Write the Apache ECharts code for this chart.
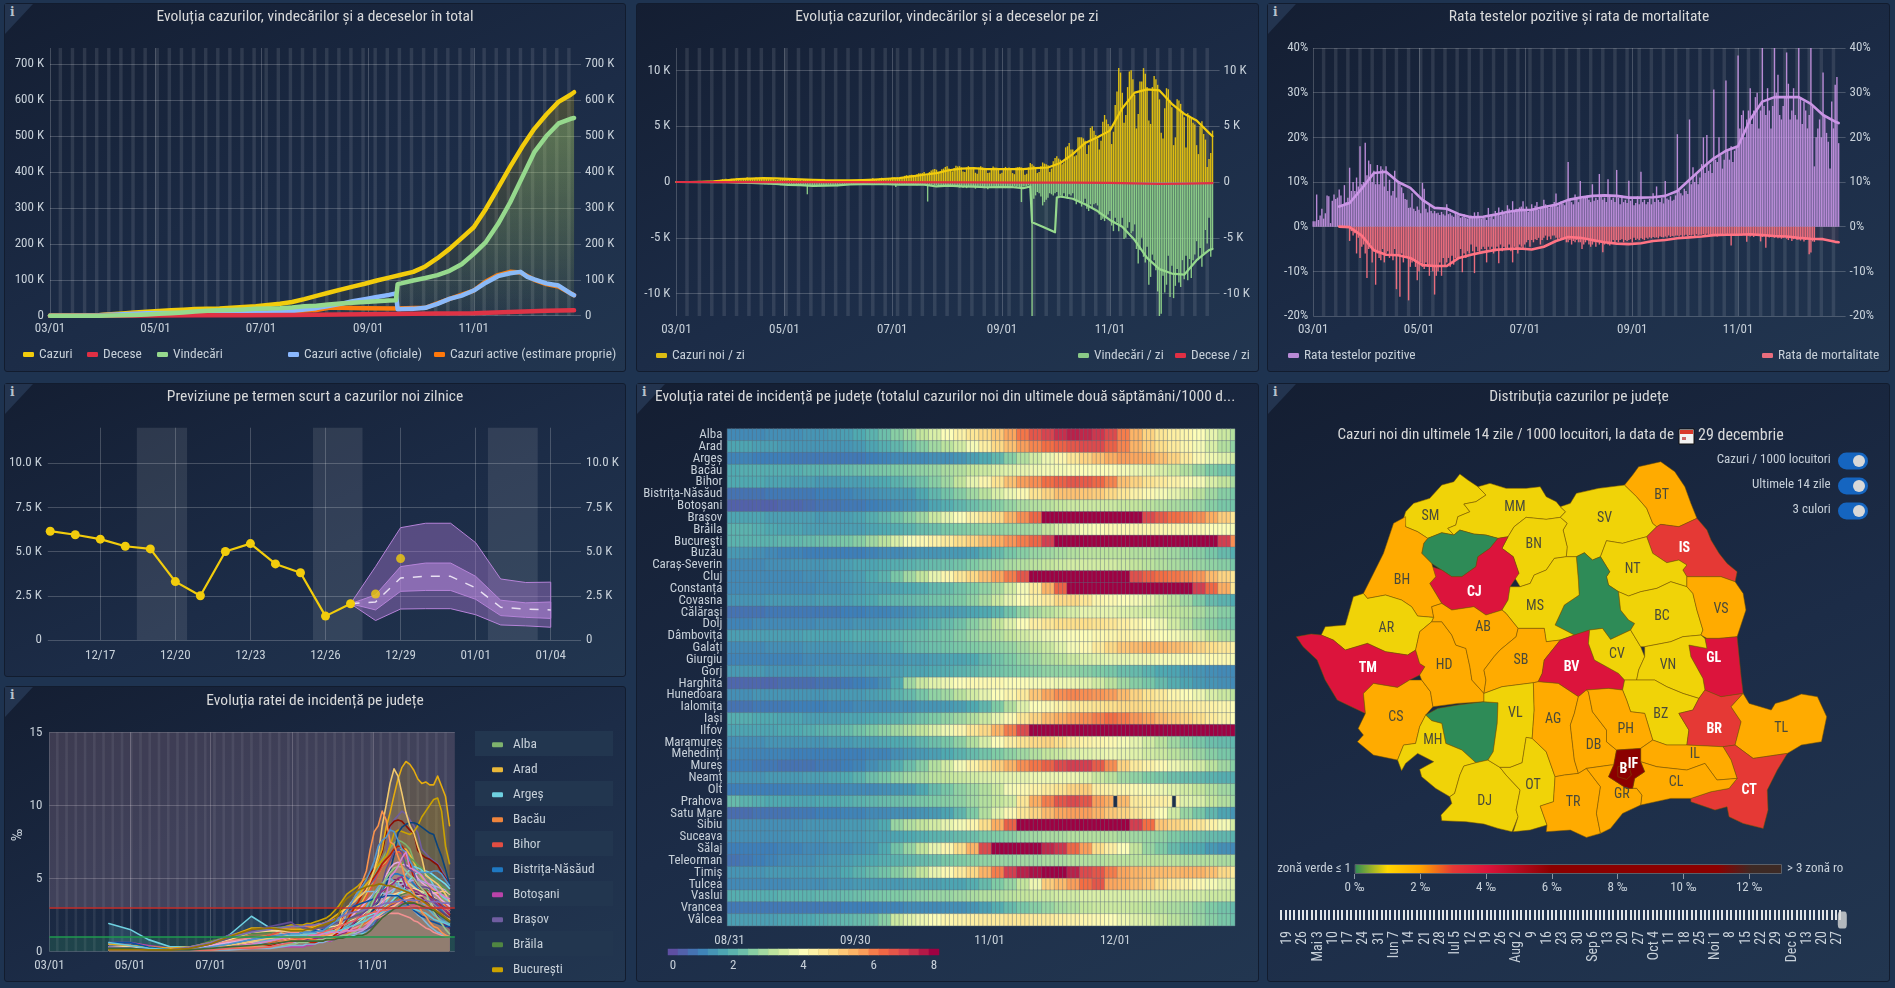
<!DOCTYPE html>
<html><head><meta charset="utf-8">
<script src="https://cdn.jsdelivr.net/npm/echarts@6/dist/echarts.min.js"></script>
<style>
html,body{margin:0;padding:0;width:1895px;height:988px;overflow:hidden;background:#1e3350}
.panel{position:absolute;border:1px solid #121c2e;border-radius:3px;box-sizing:border-box;background:linear-gradient(155deg,#141e32 0%,#1c2c47 55%,#223650 100%)}
.corner{position:absolute;left:0;top:0;width:28px;height:30px;background:#23344f;clip-path:polygon(0 0,100% 0,0 100%)}
.corner span{position:absolute;left:5px;top:1px;color:#b9c2cc;font:bold 12px "DejaVu Serif",serif}
.zebra{position:absolute;background:#22364f}
#c{position:absolute;left:0;top:0;width:1895px;height:988px}
</style></head><body>
<div id="bg"></div><div id="c"></div>
<script>
const FONT='"Liberation Sans Narrow","Roboto Condensed",Roboto,sans-serif';
const TXT='#c7d0d9', GRIDC='rgba(255,255,255,.2)';

/* ---------- dates ---------- */
const axisDays=308;
const tickDates=['03/01','05/01','07/01','09/01','11/01'];

/* ---------- totals (thousands), [day since 03/01, value] ---------- */
const totalCases=[[0,0],[7,.02],[14,.1],[21,.4],[28,1.5],[35,3.9],[42,6.3],[49,8.7],[56,11],[63,13.2],[70,15.1],[77,16.9],[84,18.5],[91,19.5],[98,20.3],[105,22.2],[112,24.5],[119,26.5],[126,29.6],[133,33],[140,38],[147,46],[154,55],[161,64],[168,72.5],[175,81],[182,89],[189,98],[196,106],[203,114],[210,122],[217,137],[224,160],[231,186],[238,216],[245,246],[252,297],[259,355],[266,414],[273,470],[280,520],[287,560],[294,595],[301,615],[303,622]];
const totalRecovered=[[0,0],[14,0],[28,.2],[35,.5],[42,1],[49,2],[56,3.5],[63,5.5],[70,7],[77,9],[84,11.5],[91,14],[98,15],[105,16],[112,17.5],[119,19],[126,20],[133,21],[140,23],[147,26],[154,28],[161,31],[168,34],[175,36],[182,38],[189,40],[196,42],[200,43],[201,88],[203,90],[210,98],[217,105],[224,113],[231,125],[238,143],[245,172],[252,205],[259,255],[266,315],[273,385],[280,455],[287,500],[294,535],[301,548],[303,550]];
const totalDeaths=[[0,0],[28,0],[56,.6],[84,1.2],[112,1.5],[140,1.9],[168,3.2],[196,4.4],[224,5.8],[245,7],[266,10.5],[287,13.5],[303,15.3]];
const activeOfficial=[[0,0],[14,.1],[28,1.3],[42,4],[56,7],[70,7.5],[84,6.5],[98,5],[112,6.5],[126,9],[140,13],[147,17],[154,21],[161,27],[168,33],[175,40],[182,46],[189,52],[196,58],[200,62],[201,18],[210,19],[217,22],[224,33],[231,47],[238,56],[245,70],[252,92],[259,110],[266,118],[272,122],[276,108],[280,101],[287,90],[294,84],[301,62],[303,57]];
const activeEstimate=[[0,0],[28,1.3],[56,7],[84,7],[112,8],[140,13],[154,16],[161,22],[168,22],[182,21],[200,20],[201,18],[217,22],[231,47],[245,70],[252,95],[259,113],[266,122],[272,120],[280,100],[287,88],[294,81],[303,57]];

/* ---------- daily (thousands) ---------- */
const dailyCases=[0,0,0,0,0,0,.01, 0,0,0,.01,.01,.02,.03, .02,.03,.03,.04,.05,.06,.05, .07,.1,.14,.19,.2,.26,.25, .3,.18,.2,.3,.3,.26,.34, .28,.19,.19,.34,.35,.43,.38, .31,.26,.31,.41,.33,.37,.33, .36,.31,.32,.37,.39,.32,.29, .2,.19,.22,.33,.27,.33,.32, .24,.19,.23,.21,.28,.25,.23, .24,.14,.19,.2,.23,.23,.25, .24,.15,.13,.18,.15,.18,.2, .19,.15,.13,.16,.15,.13,.16, .15,.13,.13,.12,.16,.15,.18, .17,.16,.15,.19,.17,.21,.24, .23,.16,.21,.25,.27,.22,.33, .25,.21,.26,.33,.38,.31,.32, .33,.28,.29,.42,.43,.37,.41, .36,.31,.38,.55,.61,.56,.62, .66,.53,.6,.7,.78,.77,.8, .89,.61,.67,.9,1.03,1.11,1.17, 1.1,.85,.89,1.15,1.2,1.35,1.4, 1.2,1,.95,1.25,1.45,1.38,1.42, 1.3,.95,.9,1.3,1.42,1.35,1.33, 1.2,.83,.75,1.3,1.4,1.3,1.25, 1.1,.8,.85,1.25,1.38,1.3,1.28, 1.2,.75,.82,1.2,1.35,1.25,1.3, 1.2,.8,.7,1.3,1.35,1.35,1.3, 1.2,.65,.75,1.3,1.7,1.6,1.45, 1.3,.8,.9,1.4,1.75,1.65,1.6, 1.5,.9,1.2,1.85,2.15,2.3,2.1, 2,1.6,1.75,3.1,3.2,3.5,2.9, 2.9,2.3,2.4,4,4,4,3.9, 3.7,2.5,3.3,4.85,5,4.6,4.2, 3.9,2.9,3.7,5.4,6,5.6,5.2, 5,3.4,4.5,6.9,8.1,10.2,9.8, 8,5.3,6,8.5,9.9,10,9.2, 7.8,4.8,6.1,9,9,10.2,9.7, 8.5,5.5,5.2,8.5,9.5,9.2,8.7, 7.4,4.4,3.9,6.6,8.4,8.3,7.3, 6.7,3.3,4,7.4,7.3,7,6.3, 5.8,3.1,6.15,5.95,5.7,5.3,5.15, 3.3,2.5,5,5.45,4.3,3.8,1.35, 2.05,2.6,4.6];
const dailyRecovered=[0,0,0,0,0,0,0, 0,0,0,0,0,0,0, 0,0,0,0,0,0,0, 0,0,.01,.02,.02,.01,.02, .03,.03,.04,.04,.05,.04,.06, .06,.04,.07,.05,.09,.11,.08, .09,.1,.12,.13,.14,.12,.1, .16,.2,.17,.21,.18,.19,.22, .18,.19,.25,.3,.28,.22,.21, .24,.28,.33,.26,.3,.32,.25, .31,.33,.35,.28,1.1,.3,.32, .35,.4,.42,.3,.38,.33,.28, .31,.33,.25,.28,.36,.3,.35, .38,.2,.3,.22,.19,.17,.2, .15,.2,.22,.18,.2,.15,.17, .19,.22,.15,.2,.24,.18,.2, .21,.16,.18,.25,.2,.19,.2, .2,.22,.25,.18,.21,.45,.2, .18,.22,.19,.2,.26,.22,.2, .25,.2,.22,.3,.24,.21,.25, .27,.3,1.75,.3,.33,.25,.28, .3,.36,.42,.33,.3,.28,.35, .42,.38,.3,.37,.41,.45,.5, .4,.52,.38,.55,.42,.36,.4, .45,.6,.43,.5,.48,.4,.55, .42,.65,.48,.5,.45,.52,.4, .48,.5,.43,.4,.55,.48,.38, .42,.46,.35,.5,.4,.45,1.8, .4,.38,.35,.3,.35,46,1.5, 1.2,.9,1,1.3,2.1,1.8,1.6, 1.4,1,1.1,1.2,1,.9,1.3, 1.2,1.4,1,1.3,1.5,1.1,1.2, 1,1.6,2,1.7,1.9,2.2,1.8, 1.5,2.4,2.6,2,2.3,2,1.9, 2.1,2.9,3.4,3.3,3.5,3.1,2.9, 2.6,3.9,4.4,3.2,3.6,4.4,3.9, 3.2,5.1,5,4.1,3.6,4.6,4.4, 3.8,6,7.3,6.1,5,6.7,7.2, 5.8,9.2,8.5,6.5,7,7.9,9.8, 12.5,11.8,8.4,9.9,9.2,6.6,10.3, 7.5,10.4,9.3,7.8,9,9.4,7, 8.7,6.6,8.8,6.9,8.6,7,6.5, 5.3,7,5.9,7.6,6.4,4.3,5.5, 3.2,6.7,6];
const avgCases=[0,0,.02,.05,.15,.27,.3,.34,.33,.28,.23,.2,.16,.15,.14,.17,.22,.29,.35,.5,.65,.8,1.05,1.2,1.25,1.15,1.15,1.15,1.15,1.25,1.3,1.7,2.5,3.5,4,4.6,6.6,8,8.3,8.2,7,6.1,5.5,4.4];
const avgRecovered=[[0,0],[21,.01],[28,.02],[35,.05],[42,.08],[49,.12],[56,.18],[63,.25],[70,.28],[77,.35],[84,.33],[91,.3],[98,.22],[105,.19],[112,.2],[119,.2],[126,.23],[133,.22],[140,.24],[147,.4],[154,.33],[161,.4],[168,.42],[175,.47],[182,.46],[189,.45],[196,.55],[200,.4],[201,3.6],[207,4],[214,4.5],[215,1.4],[217,1.3],[224,1.5],[231,2],[238,2.6],[245,3.4],[252,4],[259,5.2],[266,6.8],[273,7.8],[280,8.2],[287,8.3],[294,7],[301,6.1],[303,6]];
const avgDeaths=[[0,0],[28,.01],[56,.02],[112,.02],[168,.04],[196,.05],[224,.06],[245,.08],[259,.13],[273,.16],[287,.14],[303,.1]];

/* ---------- rates (%) ---------- */
const dailyPositive=[1.2,1.2,7.2,1.5,2.5,4,1.8, 3,7,6.8,.8,5.8,7.2,6.2, 6.5,8.3,7,5,9.3,5.5,6.5, 13.2,8,10,8,11,9,18, 9.5,10,18.8,11.5,14.8,14,10, 12.5,9.5,13.8,9.5,13.5,12.8,9, 13.5,8,10.5,7,8,12.5,6.5, 9.8,9.5,8.8,7.5,6.2,6,4.2, 4.3,7.5,4,3.5,4.5,3.8,3, 9.8,8.5,4,3.2,4.8,3.5,3, 3.5,3,3.1,2.6,3.3,2.8,2.5, 5,2.8,3,2.5,2.2,3.3,2.6, 2.5,2,2.2,2.8,2,1.8,2.1, 2.5,2,3.2,2,3.3,1.9,1.8, 2.4,2,1.5,4.2,2.1,2.6,1.7, 3.5,2.5,4.3,2.5,3.7,3,2.8, 4.8,4,3,5.7,3.5,4,3.5, 4.3,4.5,5.7,3.8,4.5,3.3,3.5, 5,3.8,4.7,5.5,3.8,4.3,4.5, 6,5,4.6,4.2,4.8,5,5.5, 7.4,4.5,5,5.7,5.2,4.8,5.8, 14.5,6,5.5,5,7.2,6.5,5.5, 10.2,6.2,6.8,6.5,7,6,5.5, 9.5,5.8,6.5,6,11.8,7,6, 6.5,5.5,10.6,7,6,6.5,5.5, 12.7,6.5,5,7,5.5,6,5.3, 10.3,5.8,6.5,4.8,5.3,6.8,5, 12.3,5.5,6,5,5.5,6.2,5, 7.5,5.5,9,6,5.5,6.5,5.2, 10.2,6.3,6,6.8,5.8,6,7, 20.7,8,7.5,7,8.5,8,7.3, 24,9.5,13.3,10,12,9.5,11, 14,20,12,20.5,12.5,14,12, 30.7,15,14.5,20,16,13,15, 32.7,17,15,18,14.5,17,18, 38.3,22,25,26,20,24,26, 31,23,26,29,30,22,26, 42,27,25,31,26,22,27, 42,30,34,25,24,27,29, 39,32,24,26,31,25,24, 42,29,23,28,26,22,25, 42,27,13.5,20,22,24,20, 34.5,25,21,19,13,28,22, 31.8,33.5,18.7];
const dailyMortality=[0,0,0,0,0,0,0, 0,0,0,0,0,0,0, 0,0,0,0,0,0,.1, 3.2,1,2,1.5,6,2.5,7, 4.5,4,6,11.5,5,4,8, 5.5,13,6,7,7.5,5,8, 6,5.5,7,6.5,7.5,5,14, 6.5,15.7,6,8,6.5,7,16.5, 9,8,7.5,9,12,10,8, 9,9.5,8,9,11,9,10, 15.2,11,10,8,11,7,9, 8,7,9,6.5,8.5,7,7, 7,5,10.2,6,7,5.5,6, 4,5.5,10.4,4.5,5.5,6,5, 4.5,5,8,4.5,5,4.5,6, 5.5,4.5,8.2,4,5.5,4.5,5, 5,4,5.5,8,4.5,5,6, 4,4.5,5,4,3.5,3,4.5, 3,3.5,2.8,3,2.5,4,3, 2.5,2,3,2.2,2.8,2,2, 2.5,3,2.5,3,3,2.5,3.5, 3.5,3,4,3.2,3.5,3,3.5, 3.5,5,4,3.5,3,4,4.5, 4,3.5,4.5,3.5,4,3.5,5.7, 4,3.5,4,4.2,3.5,3,3.5, 3,3.5,3,2.8,3.5,3,3.2, 3,2.8,3.5,2.5,3,2.7,3, 2.6,2.8,3,2.5,2.7,2.4,2.6, 2.3,2.5,2.4,2.6,2.2,2.3,2.4, 2.2,2.4,2,2.3,2.1,2.2,2, 2,2.2,1.9,2.3,2,1.8,2.1, 1.9,2,1.8,2.1,1.7,1.9,1.8, 1.8,1.7,1.9,1.6,1.8,2,1.7, 1.8,1.9,2.2,1.8,1.7,1.9,1.6, 1.7,1.8,1.6,4.2,1.9,1.7,1.8, 2,1.8,2,1.7,1.9,3.4,2, 2.2,2,2.3,1.9,2.1,2,3.3, 2.3,2.1,4.7,2,2.4,2.2,2.1, 2.5,2.3,2.6,2.4,2.7,2.5,2.3, 2.7,3,2.5,3.2,2.8,2.6,3, 2.9,3.1,2.7,3.3,3,2.8,6.2, 5.8,3.3,3.4].slice(0,304);
const avgPositive=[[15,4.5],[21,5.3],[28,8.5],[35,12],[42,12.3],[49,10],[56,8.7],[63,6],[70,4.2],[77,4],[84,2.8],[91,2.1],[98,2.2],[105,2.7],[112,3.3],[119,3.7],[126,3.8],[133,4.4],[140,4.9],[147,6],[154,6.5],[161,6.9],[168,7],[175,6.9],[182,6.5],[189,6.5],[196,6.6],[203,6.9],[210,8],[217,10.5],[224,13],[231,15.3],[238,17],[245,18],[252,24],[259,28],[266,29],[273,29],[280,29],[287,27.5],[294,25],[301,23.5],[303,23.2]];
const avgMortality=[[15,0],[21,.1],[28,2],[35,5.3],[42,6.3],[49,6.4],[56,7],[63,8.6],[70,8.8],[77,8.8],[84,7],[91,6.3],[98,5.7],[105,5.2],[112,5],[119,4.9],[126,5.1],[133,4.5],[140,3.2],[147,2.3],[154,2.5],[161,3],[168,3.5],[175,3.8],[182,3.9],[189,3.7],[196,3.2],[203,3],[210,2.6],[217,2.4],[224,2.2],[231,1.9],[238,1.8],[245,1.8],[252,1.7],[259,1.9],[266,2.1],[273,2.2],[280,2.5],[287,2.7],[294,2.8],[301,3.4],[303,3.5]];

/* ---------- forecast (thousands) ---------- */
const forecastLabels={3:'12/17',6:'12/20',9:'12/23',12:'12/26',15:'12/29',18:'01/01',21:'01/04'};
const forecastActual=[[1,6.15],[2,5.95],[3,5.7],[4,5.3],[5,5.15],[6,3.3],[7,2.5],[8,5],[9,5.45],[10,4.3],[11,3.8],[12,1.35],[13,2.05]];
const forecastLate=[[14,2.6],[15,4.6]];
const forecastDays=[13,14,15,16,17,18,19,20,21];
const outerHigh=[2.05,4.15,6.35,6.6,6.6,5.5,3.45,3.25,3.27];
const innerHigh=[2.05,2.55,4.15,4.35,4.35,3.6,2.25,2.1,2.15];
const forecastMean=[2.05,2.15,3.5,3.6,3.6,2.95,1.85,1.75,1.7];
const innerLow=[2.05,1.7,2.75,2.8,2.8,2.3,1.38,1.28,1.22];
const outerLow=[2.05,1.1,1.75,1.77,1.77,1.43,.85,.8,.72];
const forecastWeekends=[[4.46,6.47],[11.5,13.48],[18.49,20.48]];

/* ---------- counties ---------- */
const counties=['Alba','Arad','Argeș','Bacău','Bihor','Bistrița-Năsăud','Botoșani','Brașov','Brăila','București','Buzău','Caraș-Severin','Cluj','Constanța','Covasna','Călărași','Dolj','Dâmbovița','Galați','Giurgiu','Gorj','Harghita','Hunedoara','Ialomița','Iași','Ilfov','Maramureș','Mehedinți','Mureș','Neamț','Olt','Prahova','Satu Mare','Sibiu','Suceava','Sălaj','Teleorman','Timiș','Tulcea','Vaslui','Vrancea','Vâlcea'];
const countyColors=['#7EB26D','#EAB839','#6ED0E0','#EF843C','#E24D42','#1F78C1','#BA43A9','#705DA0','#508642','#CCA300','#447EBC','#C15C17','#890F02','#0A437C','#6D1F62','#584477','#B7DBAB','#F4D598','#70DBED','#F9BA8F','#F29191','#82B5D8','#E5A8E2','#AEA2E0','#629E51','#E5AC0E','#64B0C8','#E0752D','#BF1B00','#0A50A1','#962D82','#614D93','#9AC48A','#F2C96D','#65C5DB','#F9934E','#EA6460','#5195CE','#D683CE','#806EB7','#3F6833','#967302'];
/* incidence (cases/1000) every third day from 08/31 to 12/29 */
const incidence=[
[1.0,1.0,1.0,1.1,1.1,1.1,1.2,1.2,1.3,1.4,1.6,1.8,2.1,2.5,2.8,3.2,3.5,4.0,4.3,4.6,4.9,5.2,5.7,6.3,6.8,7.1,7.4,7.6,7.5,7.3,7.0,6.2,5.5,5.0,4.6,4.4,4.2,4.0,3.7,3.3,3.0],
[1.5,1.5,1.4,1.4,1.3,1.2,1.2,1.2,1.2,1.2,1.3,1.5,1.7,1.9,2.2,2.5,2.8,3.1,3.4,3.9,4.4,4.9,5.3,5.8,6.1,6.4,6.6,6.8,7.0,7.0,6.6,6.1,5.5,5.1,4.8,4.5,4.2,3.9,3.5,3.0,2.6],
[.9,.9,.8,.8,.8,.7,.7,.7,.7,.7,.7,.8,.9,1.0,1.0,1.0,1.1,1.1,1.2,1.4,1.6,1.9,2.5,3.0,3.4,3.8,4.2,4.6,5.0,5.3,5.6,5.8,5.7,5.6,5.3,5.0,4.5,4.1,3.8,3.6,3.4],
[1.6,1.7,1.7,1.7,1.7,1.7,1.8,1.8,1.9,2.0,2.1,2.2,2.3,2.4,2.5,2.6,2.7,2.9,3.0,3.2,3.3,3.5,3.6,3.7,3.8,3.9,3.9,4.0,4.0,4.0,4.0,3.9,3.8,3.7,3.5,3.3,3.0,2.7,2.4,2.2,2.0],
[1.6,1.6,1.6,1.5,1.5,1.4,1.4,1.3,1.3,1.4,1.4,1.5,1.6,1.8,2.0,2.2,2.5,2.8,3.2,3.7,4.2,4.7,5.3,5.8,6.0,6.4,6.6,6.8,6.7,6.5,6.1,5.3,5.0,4.7,4.5,4.3,4.1,3.9,3.5,3.2,2.9],
[.6,.6,.6,.7,.7,.7,.7,.8,.8,.9,1.0,1.1,1.2,1.3,1.3,1.6,1.9,2.2,2.5,2.8,3.1,3.5,3.8,4.1,4.7,5.0,5.3,5.3,5.2,5.1,4.9,4.6,4.3,4.1,3.9,3.7,3.4,3.1,2.8,2.5,2.3],
[.3,.3,.3,.3,.4,.4,.5,.6,.6,.7,.7,.8,.9,1.0,1.1,1.2,1.5,1.7,1.9,2.1,2.3,2.5,2.7,2.9,3.0,3.1,3.2,3.3,3.3,3.3,3.3,3.2,3.2,3.1,3.0,2.9,2.8,2.7,2.5,2.3,2.2],
[1.5,1.5,1.5,1.4,1.4,1.4,1.4,1.3,1.4,1.4,1.5,1.7,1.9,2.2,2.5,2.8,3.3,3.7,4.0,4.3,4.6,4.9,5.5,6.0,6.5,8.5,9,9.3,9.6,9.4,9,8.6,8.1,7.0,6.7,6.4,6.2,6.0,5.6,5.1,4.6],
[1.8,1.8,1.7,1.6,1.5,1.5,1.4,1.4,1.4,1.4,1.4,1.5,1.6,1.7,1.8,2.0,2.1,2.3,2.4,2.5,2.6,2.6,2.7,2.8,2.9,3.2,3.5,3.7,3.9,4.0,4.1,4.1,4.2,4.2,4.2,4.2,4.1,4.1,4.0,4.0,3.9],
[1.8,1.8,1.8,1.8,1.9,1.9,2.0,2.1,2.2,2.3,2.5,2.8,3.1,3.5,3.9,4.1,4.3,4.5,4.8,5.0,5.3,5.6,5.9,6.2,6.5,7.2,8.1,8.3,8.2,8.1,8.0,8.2,8.6,9.2,9.6,10,10.4,10.5,9.6,7.2,6.0],
[1.3,1.2,1.1,1.0,.9,.9,.8,.8,.8,.8,.8,.9,1.0,1.0,1.1,1.2,1.2,1.3,1.3,1.4,1.7,2.0,2.3,2.5,2.7,2.8,2.9,3.0,3.1,3.1,3.1,3.1,3.0,3.0,2.9,2.8,2.6,2.5,2.3,2.0,1.7],
[1.0,1.0,1.0,1.1,1.1,1.2,1.2,1.2,1.3,1.4,1.5,1.5,1.6,1.7,1.8,1.9,2.0,2.1,2.2,2.4,2.6,2.7,2.9,3.0,3.1,3.2,3.3,3.4,3.4,3.4,3.4,3.3,3.2,3.1,3.0,2.9,2.8,2.7,2.6,2.5,2.3],
[1.0,1.0,1.0,1.0,1.0,1.0,1.1,1.1,1.2,1.3,1.4,1.6,1.8,2.3,2.8,3.2,3.7,4.2,4.6,4.9,5.3,5.7,6.2,6.8,8.1,8.6,8.9,9,8.9,8.6,8.3,8.1,6.9,6.6,6.4,6.3,6.1,5.9,5.4,5.0,4.6],
[1.0,1.0,1.0,1.0,1.0,1.0,1.0,1.1,1.1,1.2,1.3,1.4,1.4,1.5,1.6,1.7,1.9,2.0,2.2,2.4,2.6,2.9,3.4,3.9,4.5,5.5,6.6,8.1,8.5,8.7,8.8,8.8,8.7,8.5,8.3,8.1,8.0,7.2,6.5,5.6,4.6],
[1.2,1.2,1.2,1.3,1.3,1.3,1.3,1.4,1.4,1.4,1.5,1.6,1.8,1.9,2.0,2.1,2.2,2.3,2.4,2.6,2.9,3.3,3.7,4.0,4.3,4.5,4.9,4.9,4.6,4.2,4.1,4.0,3.9,3.7,3.4,3.1,2.8,2.4,2.0,1.8,1.6],
[.6,.6,.6,.7,.7,.7,.7,.7,.7,.8,.8,.9,.9,1.0,1.1,1.2,1.3,1.3,1.4,1.5,1.6,1.8,2.2,2.6,2.9,3.1,3.3,3.5,3.7,3.7,3.7,3.6,3.5,3.4,3.3,3.2,3.1,2.9,2.7,2.5,2.3],
[.9,.9,1.0,1.0,1.0,1.0,1.0,1.1,1.1,1.1,1.2,1.2,1.3,1.4,1.5,1.6,1.8,2.0,2.2,2.5,2.8,3.2,3.6,4.0,4.4,4.6,4.8,4.8,4.8,4.7,4.6,4.4,4.2,4.0,3.8,3.4,3.0,2.7,2.5,2.3,2.2],
[1.4,1.4,1.4,1.4,1.4,1.4,1.5,1.5,1.5,1.6,1.7,1.7,1.8,1.9,2.0,2.1,2.2,2.3,2.5,2.7,2.9,3.0,3.2,3.4,3.6,3.8,3.9,4.0,4.0,4.1,4.2,4.3,4.2,4.1,4.0,3.9,3.7,3.5,3.2,3.0,2.8],
[1.0,1.0,1.0,1.1,1.1,1.1,1.2,1.2,1.2,1.3,1.4,1.4,1.5,1.7,1.9,2.0,2.1,2.2,2.3,2.4,2.5,2.6,2.7,2.9,3.1,3.3,3.6,3.9,4.1,4.5,4.9,5.2,5.4,5.5,5.5,5.4,5.2,5.0,4.8,4.6,4.3],
[.9,.9,.9,.9,.9,.9,1.0,1.0,1.0,1.1,1.1,1.1,1.2,1.2,1.3,1.3,1.4,1.5,1.5,1.6,1.9,2.2,2.4,2.6,2.8,3.0,3.1,3.3,3.5,3.6,3.7,3.7,3.8,3.8,3.9,3.9,4.0,4.0,4.1,4.1,3.9],
[1.3,1.3,1.3,1.2,1.2,1.2,1.2,1.3,1.3,1.3,1.3,1.4,1.4,1.4,1.5,1.5,1.6,1.7,1.8,1.9,2.1,2.2,2.3,2.4,2.5,2.6,2.6,2.6,2.5,2.4,2.3,2.1,2.0,1.8,1.6,1.5,1.3,1.2,1.1,1.0,1.0],
[.4,.4,.4,.4,.5,.5,.5,.6,.6,.7,.8,.9,1.1,1.6,2.8,3.3,3.6,3.8,4.0,4.1,4.1,4.1,4.0,4.0,3.9,3.9,3.8,3.8,3.6,3.4,3.1,2.8,2.5,2.3,2.0,1.7,1.5,1.3,1.2,1.1,1.0],
[1.1,1.1,1.2,1.2,1.2,1.2,1.2,1.2,1.3,1.3,1.3,1.4,1.5,1.8,2.0,2.3,2.6,2.8,3.1,3.4,3.7,4.0,4.2,4.5,5.2,5.7,6.0,6.1,6.0,5.9,5.8,5.4,5.0,4.7,4.5,4.2,4.0,3.8,3.5,3.3,3.1],
[.6,.6,.7,.7,.7,.8,.8,.8,.9,.9,1.0,1.0,1.0,1.1,1.1,1.2,1.2,1.3,1.4,1.6,1.9,2.4,3.0,3.6,4.0,4.1,4.3,4.5,4.6,4.7,4.8,4.9,4.9,4.8,4.7,4.6,4.5,4.4,4.3,4.2,4.0],
[1.7,1.7,1.6,1.6,1.5,1.5,1.4,1.4,1.4,1.5,1.5,1.6,1.7,1.8,2.0,2.2,2.4,2.6,2.8,3.0,3.3,3.7,4.1,4.6,5.0,5.4,5.6,5.8,6.0,6.2,6.4,6.2,5.9,5.7,5.4,5.2,5.0,4.8,4.5,4.3,4.0],
[1.5,1.5,1.5,1.5,1.6,1.6,1.7,1.8,1.9,2.0,2.2,2.4,2.6,2.8,3.0,3.2,3.5,3.8,4.2,4.6,4.9,5.5,6.2,7.0,8.5,9.5,10.7,11.8,12.6,13,12.8,12.4,11.8,11.5,11.6,11.4,11.4,12,11.3,10.6,8.6],
[1.1,1.1,1.1,1.2,1.2,1.2,1.2,1.2,1.3,1.3,1.4,1.4,1.5,1.6,1.7,1.9,2.1,2.3,2.6,3.0,3.5,4.0,4.4,4.7,4.9,5.0,4.8,4.5,4.3,4.2,4.1,3.9,3.7,3.4,3.1,2.8,2.5,2.3,2.1,2.0,1.9],
[1.0,.9,.9,.9,.9,.8,.8,.8,.8,.8,.8,.9,.9,1.1,1.2,1.3,1.4,1.6,1.8,2.0,2.2,2.4,2.6,2.8,3.0,3.2,3.3,3.5,3.6,3.7,3.8,3.7,3.6,3.4,3.3,3.1,2.9,2.7,2.5,2.3,2.1],
[.8,.8,.7,.7,.6,.6,.6,.7,.7,.8,.9,1.1,1.3,1.7,2.1,2.5,3.0,3.4,3.9,4.3,4.7,5.1,5.5,6.0,6.3,6.6,7.0,7.2,7.2,6.7,6.0,5.0,4.5,4.3,4.1,3.8,3.6,3.4,3.1,2.8,2.5],
[1.2,1.2,1.2,1.3,1.3,1.3,1.4,1.4,1.5,1.6,1.8,2.1,2.3,2.6,2.8,2.9,3.1,3.2,3.3,3.4,3.5,3.6,3.7,3.7,3.8,3.8,3.8,3.8,3.6,3.3,3.1,2.8,2.6,2.4,2.3,2.1,2.0,1.9,1.8,1.7,1.7],
[.8,.8,.8,.8,.8,.9,.9,.9,.9,1.0,1.0,1.0,1.1,1.2,1.3,1.6,2.0,2.3,2.6,2.8,3.0,3.3,3.9,4.1,4.3,4.5,4.7,5.0,5.1,4.4,4.3,4.2,4.1,3.9,3.8,3.6,3.4,3.2,3.0,2.8,2.6],
[2.0,1.8,1.7,1.6,1.6,1.5,1.5,1.6,1.6,1.7,1.8,1.9,2.0,2.1,2.2,2.3,2.4,2.5,2.6,2.8,3.0,3.2,3.4,4.6,5.6,6.2,6.8,7.0,6.8,5.8,5.6,5.4,4.5,4.4,4.4,4.3,3.6,3.5,3.2,3.0,2.8],
[.5,.5,.6,.6,.6,.7,.7,.8,.8,.9,.9,1.0,1.0,1.1,1.1,1.2,1.3,1.5,1.9,2.4,3.0,3.6,4.1,4.6,5.0,5.4,5.7,5.8,5.8,5.5,5.2,5.0,4.6,4.3,4.0,3.4,2.7,2.3,1.9,1.5,1.2],
[1.1,1.1,1.1,1.1,1.1,1.1,1.2,1.2,1.2,1.3,1.3,1.4,1.6,2.7,3.0,3.2,3.4,3.7,3.9,4.2,4.8,5.6,6.6,8.6,10,11.5,12.5,12,10.8,9.5,8.6,8.1,7.2,6.4,5.2,5.0,4.8,4.6,4.3,3.9,3.4],
[1.1,1.1,1.1,1.1,1.1,1.2,1.2,1.2,1.3,1.3,1.3,1.4,1.4,1.5,1.6,1.7,1.8,1.9,2.0,2.1,2.3,2.4,2.5,2.7,2.8,2.9,2.9,3.0,3.0,3.0,3.0,2.9,2.8,2.7,2.6,2.4,2.2,2.1,2.0,1.9,1.8],
[.8,.8,.8,.8,.9,.9,1.0,1.0,1.1,1.1,1.2,1.3,1.6,2.2,2.7,3.2,3.7,4.2,4.8,5.5,7.0,8.2,8.6,9.6,9.0,7.5,7.3,6.5,5.8,4.8,4.4,4.0,3.2,2.7,2.4,2.0,1.7,1.6,1.3,1.1,1.0],
[.6,.7,.8,.9,1.0,1.1,1.1,1.2,1.3,1.4,1.5,1.6,1.7,1.8,1.9,2.0,2.1,2.3,2.4,2.5,2.6,2.7,2.7,2.8,2.8,2.9,2.9,3.0,3.0,3.0,3.1,3.1,3.1,3.1,3.1,3.1,3.0,3.0,3.0,2.9,2.9],
[1.2,1.2,1.2,1.3,1.3,1.3,1.3,1.4,1.4,1.6,1.8,2.0,2.2,2.5,2.8,3.2,3.7,4.1,4.5,4.9,5.5,6.2,7.2,7.6,7.8,8.3,8.2,7.6,7.0,6.8,6.2,5.7,5.5,5.4,5.4,5.4,5.5,5.5,5.3,4.9,4.5],
[1.0,1.0,1.0,1.0,1.0,1.1,1.1,1.1,1.2,1.2,1.3,1.3,1.3,1.3,1.4,1.4,1.4,1.5,1.5,1.7,2.0,2.4,2.7,3.2,3.8,5.1,5.4,5.8,6.4,6.8,5.7,5.6,5.4,5.2,4.8,4.5,4.3,4.1,3.9,3.7,3.6],
[1.7,1.7,1.7,1.7,1.8,1.8,1.8,1.9,1.9,2.0,2.1,2.2,2.3,2.4,2.5,2.6,2.7,2.7,2.8,2.9,3.0,3.0,3.1,3.2,3.3,3.3,3.4,3.4,3.5,3.5,3.5,3.5,3.5,3.5,3.5,3.4,3.4,3.4,3.3,3.3,3.3],
[.7,.7,.7,.7,.7,.7,.7,.7,.7,.8,.8,.8,.9,.9,1.0,1.0,1.0,1.1,1.1,1.2,1.4,1.7,2.0,2.3,2.5,2.7,2.9,3.0,3.2,3.3,3.3,3.3,3.2,3.1,3.0,2.9,2.8,2.6,2.4,2.2,2.0],
[1.4,1.4,1.4,1.4,1.5,1.5,1.6,1.7,1.8,1.9,2.0,2.1,2.5,3.3,3.6,3.8,4.0,4.2,4.3,4.4,4.5,4.5,4.6,4.6,4.5,4.5,4.4,4.3,4.2,4.1,4.0,3.8,3.6,3.5,3.3,3.1,2.9,2.7,2.5,2.3,2.1]];
/* incidence before 08/31, one row per county, on earlyDays */
const earlyDays=[45,61,75,92,106,122,136,153,167];
const incidenceEarly=[
[.2,.2,.1,.1,.1,.2,.4,.5,.6],[.1,.1,.1,.1,.2,.4,.6,.9,1.1],[1.9,1.5,.8,.3,.3,.5,1.1,2.4,1.6],[.2,.3,.2,.1,.2,.4,.8,1.2,1.5],[.2,.1,.1,.1,.1,.2,.4,.8,1.1],[.3,.2,.1,.1,.1,.1,.2,.3,.4],[.6,.6,.4,.2,.1,.1,.2,.2,.3],[.1,.1,.1,.1,.2,.6,1.1,1.5,1.6],[.1,.1,.1,.1,.2,.7,1.0,1.2,1.3],[.1,.2,.1,.1,.1,.3,.7,1.5,1.4],
[.3,.2,.1,.1,.1,.2,.4,.6,.9],[.1,.1,.1,.1,.1,.2,.3,.5,.6],[.1,.1,.1,.1,.1,.2,.3,.5,.7],[.1,.1,.1,.1,.1,.1,.2,.4,.6],[.1,.1,.1,.1,.1,.2,.3,.6,.9],[.1,.1,.1,.1,.1,.2,.3,.4,.4],[.1,.1,.1,.1,.1,.3,.5,.7,.7],[.3,.3,.2,.1,.2,.5,.8,1.3,1.4],[.2,.2,.1,.1,.1,.3,.5,.8,.9],[.1,.1,.1,.1,.1,.2,.4,.6,.7],
[.1,.1,.1,.1,.2,.4,.7,.9,1.0],[.1,.1,.1,.1,.1,.1,.1,.2,.2],[.5,.4,.2,.2,.2,.4,.6,.8,.9],[.1,.1,.1,.1,.1,.1,.2,.3,.4],[.2,.2,.1,.1,.2,.5,.9,1.3,1.6],[.5,.4,.3,.2,.3,.6,1.0,1.6,1.6],[.1,.1,.1,.1,.1,.2,.3,.5,.8],[.1,.1,.1,.1,.1,.2,.3,.5,.6],[.2,.1,.1,.1,.1,.2,.3,.3,.4],[.6,.6,.3,.1,.1,.2,.4,.8,1.0],
[.1,.1,.1,.1,.1,.2,.3,.4,.5],[.2,.2,.1,.1,.2,.5,.9,1.4,1.7],[.1,.1,.1,.1,.1,.1,.2,.3,.3],[.1,.1,.1,.1,.1,.2,.4,.7,.9],[.6,.4,.2,.1,.1,.1,.2,.4,.7],[.1,.1,.1,.1,.1,.1,.2,.3,.5],[.1,.1,.1,.1,.1,.1,.2,.2,.3],[.1,.1,.1,.1,.1,.3,.5,.8,1.0],[.1,.1,.1,.1,.1,.2,.3,.5,.7],[.3,.2,.1,.1,.3,.6,1.0,1.3,1.5],
[.2,.2,.1,.1,.1,.2,.3,.4,.5],[.1,.1,.1,.1,.2,.5,1.0,1.5,1.6]];
const incidenceMissing={31:[92,106]};
const heatLabels=['08/31','09/30','11/01','12/01'];
const heatStart=[2020,7,31], heatDays=121;
const heatLegendValues=[0,.3,.6,.9,1.2,1.5,1.8,2.1,2.5,2.8,3.1,3.4,3.7,4,4.3,4.6,4.9,5.2,5.5,5.8,6.2,6.5,6.8,7.1,7.4,7.7,8];
const heatLegendLabels={0:'0',6:'2',13:'4',20:'6',26:'8'};
const spectral=['#5e4fa2','#3d7fb9','#4faab1','#7fcca5','#c5e69c','#fdfdb8','#fee08b','#fdae61','#f46d43','#d53e4f','#9e0142'];

/* ---------- map ---------- */
const mapValues={SM:1.5,MM:1.5,SV:1.5,BT:2.5,IS:3.2,BN:1.5,NT:1.5,HR:.9,SJ:.9,CJ:4,MS:1.5,BH:2.5,AR:1.5,TM:4,CS:2.5,HD:2.5,AB:2.5,SB:2.5,BV:4,CV:1.5,BC:1.5,VS:2.5,VN:1.5,GL:4,BZ:1.5,BR:3.2,TL:2.5,CT:3.2,GJ:.9,MH:1.5,DJ:1.5,VL:1.5,OT:1.5,AG:2.5,DB:2.5,TR:2.5,PH:2.5,IL:2.5,CL:2.5,GR:2.5,IF:7,B:7};
const mapHidden=['HR','SJ','GJ'];
const mapShapes={
SM:[[350,395],[370,370],[410,355],[440,315],[470,305],[485,282],[505,300],[530,320],[550,345],[525,365],[495,372],[510,395],[480,410],[475,435],[455,445],[470,465],[440,458],[405,475],[380,455],[350,440],[345,415]],
MM:[[530,320],[560,310],[600,325],[650,325],[685,320],[700,350],[725,365],[735,380],[748,395],[735,412],[700,418],[650,412],[620,440],[605,470],[580,475],[550,465],[520,462],[485,450],[470,465],[455,445],[475,435],[480,410],[510,395],[495,372],[525,365],[550,345]],
SV:[[735,380],[760,370],[775,340],[830,325],[895,315],[925,350],[950,385],[965,430],[975,440],[950,470],[925,478],[890,490],[850,482],[835,530],[815,540],[795,518],[775,530],[750,530],[752,500],[742,450],[752,430],[735,412],[748,395]],
BT:[[895,315],[915,285],[930,260],[985,245],[1020,275],[1045,320],[1060,370],[1075,415],[1030,440],[985,433],[975,440],[965,430],[950,385],[925,350]],
IS:[[985,433],[1030,440],[1075,415],[1100,450],[1110,480],[1130,520],[1150,550],[1175,575],[1170,605],[1135,590],[1100,590],[1050,590],[1040,570],[1050,555],[1030,540],[1000,548],[965,520],[950,470],[975,440]],
NT:[[850,482],[890,490],[925,478],[950,470],[965,520],[1000,548],[1030,540],[1050,555],[1040,570],[1050,590],[1050,620],[1010,605],[975,625],[935,635],[905,648],[880,635],[855,615],[850,590],[858,575],[835,530]],
BN:[[620,440],[650,412],[700,418],[735,412],[752,430],[742,450],[752,500],[750,530],[720,535],[700,570],[670,585],[660,610],[635,620],[620,590],[632,580],[618,530],[590,505],[605,470]],
HR:[[795,518],[815,540],[835,530],[858,575],[850,590],[855,615],[880,635],[885,690],[905,720],[920,730],[910,750],[860,778],[840,745],[808,750],[770,765],[722,735],[745,675],[782,645],[780,600],[775,530]],
SJ:[[405,475],[440,458],[470,465],[485,450],[520,462],[550,465],[580,475],[560,505],[530,530],[525,560],[490,590],[465,590],[440,570],[415,550],[390,520],[395,490]],
CJ:[[580,475],[605,470],[590,505],[618,530],[632,580],[610,620],[605,660],[590,690],[550,705],[520,680],[465,690],[440,670],[425,640],[410,610],[425,590],[415,560],[440,570],[465,590],[490,590],[525,560],[530,530],[560,505]],
MS:[[635,620],[660,610],[670,585],[700,570],[720,535],[750,530],[775,530],[780,600],[782,645],[745,675],[722,735],[770,765],[735,780],[700,785],[695,745],[630,745],[600,700],[590,690],[605,660],[610,620]],
BH:[[350,410],[350,440],[380,455],[405,475],[395,490],[390,520],[415,550],[425,590],[410,610],[425,640],[440,670],[415,680],[420,712],[380,708],[365,680],[340,660],[300,645],[255,655],[245,640],[270,580],[295,520],[320,430]],
AR:[[245,640],[255,655],[300,645],[340,660],[365,680],[380,708],[420,712],[415,725],[385,755],[375,810],[355,825],[300,815],[255,790],[200,810],[170,780],[140,765],[150,740],[200,735],[220,650]],
TM:[[78,770],[115,762],[140,765],[170,780],[200,810],[255,790],[300,815],[355,825],[375,810],[385,850],[398,860],[385,885],[360,900],[330,922],[270,910],[245,940],[250,1000],[180,960],[150,900],[130,840],[95,800]],
CS:[[250,1000],[245,940],[270,910],[330,922],[360,900],[390,900],[412,935],[418,980],[400,1005],[385,1040],[375,1090],[345,1095],[330,1140],[270,1125],[230,1085],[245,1065],[232,1045]],
HD:[[385,755],[415,725],[440,725],[465,765],[475,795],[500,805],[510,860],[515,900],[545,940],[545,965],[480,970],[418,980],[412,935],[390,900],[385,885],[398,860],[385,850],[375,810]],
AB:[[415,680],[440,670],[465,690],[520,680],[550,705],[590,690],[600,700],[630,745],[625,770],[585,810],[570,830],[545,870],[550,900],[545,940],[515,900],[510,860],[500,805],[475,795],[465,765],[440,725],[415,725],[420,712]],
SB:[[630,745],[695,745],[700,785],[735,780],[695,840],[690,880],[680,905],[668,908],[590,920],[545,940],[550,900],[545,870],[570,830],[585,810],[625,770]],
BV:[[735,780],[770,765],[808,750],[805,790],[820,840],[880,880],[895,900],[890,930],[855,925],[800,930],[780,950],[730,910],[680,905],[690,880],[695,840]],
CV:[[808,750],[840,745],[860,778],[910,750],[935,800],[945,830],[930,870],[925,900],[895,900],[880,880],[820,840],[805,790]],
BC:[[880,635],[905,648],[935,635],[975,625],[1010,605],[1050,620],[1065,640],[1075,690],[1090,750],[1085,765],[1040,770],[1010,785],[945,800],[935,800],[910,750],[920,730],[905,720],[885,690]],
VS:[[1050,590],[1100,590],[1135,590],[1170,605],[1190,640],[1197,690],[1175,770],[1130,775],[1100,775],[1085,765],[1090,750],[1075,690],[1065,640],[1050,620]],
GL:[[1100,805],[1095,775],[1130,775],[1175,770],[1185,890],[1190,940],[1135,950],[1095,930],[1090,895],[1060,830],[1055,795]],
VN:[[945,800],[1010,785],[1040,770],[1085,765],[1095,775],[1100,805],[1055,795],[1060,830],[1090,895],[1095,930],[1080,955],[1040,940],[1000,920],[970,900],[925,900],[930,870],[945,830]],
BZ:[[925,900],[970,900],[1000,920],[1040,940],[1080,955],[1065,990],[1030,1000],[1055,1050],[1050,1095],[1000,1095],[965,1080],[945,1000],[910,995],[900,960],[890,930],[895,900]],
BR:[[1095,930],[1135,950],[1190,940],[1160,980],[1185,1025],[1170,1095],[1140,1100],[1050,1095],[1055,1050],[1030,1000],[1065,990],[1080,955]],
TL:[[1170,1095],[1185,1025],[1160,980],[1190,940],[1205,970],[1260,990],[1270,970],[1300,960],[1335,942],[1375,950],[1398,1010],[1385,1085],[1335,1095],[1300,1120],[1215,1135]],
CT:[[1140,1100],[1170,1095],[1215,1135],[1300,1120],[1275,1170],[1250,1230],[1252,1290],[1240,1345],[1190,1330],[1155,1310],[1150,1280],[1120,1290],[1060,1265],[1060,1255],[1110,1235],[1155,1225],[1175,1195],[1160,1140]],
GJ:[[400,1005],[430,985],[480,975],[545,965],[580,968],[578,1030],[568,1115],[555,1140],[525,1148],[490,1110],[450,1090],[440,1030],[415,1022]],
MH:[[415,1022],[440,1030],[450,1090],[490,1110],[525,1148],[495,1158],[485,1185],[472,1240],[460,1250],[425,1225],[390,1190],[385,1168],[405,1155],[420,1145],[380,1120],[350,1150],[340,1172],[330,1140],[345,1095],[375,1090],[385,1040],[400,1005]],
DJ:[[525,1148],[555,1140],[585,1162],[600,1185],[635,1230],[625,1290],[630,1310],[615,1355],[580,1345],[545,1332],[500,1325],[440,1322],[438,1305],[465,1270],[460,1250],[472,1240],[485,1185],[495,1158]],
VL:[[545,965],[545,940],[590,920],[668,908],[670,990],[665,1075],[650,1072],[640,1148],[610,1162],[585,1162],[555,1140],[568,1115],[578,1030],[580,968]],
OT:[[585,1162],[610,1162],[640,1148],[650,1072],[665,1075],[700,1115],[722,1190],[718,1265],[685,1278],[702,1335],[660,1350],[618,1355],[630,1310],[625,1290],[635,1230],[600,1185]],
AG:[[668,908],[680,905],[730,910],[780,950],[770,1000],[760,1035],[770,1140],[780,1180],[745,1185],[722,1190],[700,1115],[665,1075],[670,990]],
DB:[[780,950],[800,930],[805,935],[815,995],[850,1050],[850,1085],[875,1110],[868,1155],[860,1155],[800,1165],[780,1180],[770,1140],[760,1035],[770,1000]],
TR:[[722,1190],[745,1185],[780,1180],[800,1165],[835,1220],[825,1300],[835,1360],[800,1372],[760,1350],[700,1355],[702,1335],[685,1278],[718,1265]],
PH:[[800,930],[855,925],[890,930],[900,960],[910,995],[945,1000],[965,1080],[935,1105],[875,1110],[850,1085],[850,1050],[815,995],[805,935]],
IL:[[935,1105],[965,1080],[1000,1095],[1050,1095],[1140,1100],[1160,1140],[1175,1195],[1125,1200],[1095,1150],[1050,1170],[975,1160],[935,1145]],
CL:[[935,1145],[975,1160],[1050,1170],[1095,1150],[1125,1200],[1175,1195],[1155,1225],[1110,1235],[1060,1255],[1010,1255],[935,1275],[938,1245],[925,1225],[915,1225],[920,1195],[945,1175]],
GR:[[800,1165],[860,1155],[868,1155],[855,1190],[900,1225],[925,1225],[938,1245],[935,1275],[890,1300],[860,1345],[835,1360],[825,1300],[835,1220]],
IF:[[875,1110],[935,1105],[935,1145],[945,1175],[920,1195],[915,1225],[900,1225],[855,1190],[868,1155]],
B:[[878,1160],[905,1155],[912,1185],[900,1198],[878,1190]]};
const mapLabelAt={SM:[412,410],MM:[622,383],SV:[845,415],BT:[987,345],IS:[1044,505],BN:[669,494],NT:[915,567],BH:[341,600],CJ:[521,638],MS:[672,680],BC:[988,710],VS:[1135,688],AR:[302,745],AB:[543,743],TM:[256,866],HD:[446,857],SB:[637,842],BV:[763,863],CV:[876,824],VN:[1003,857],GL:[1117,836],CS:[326,1013],VL:[623,1000],BZ:[985,1003],BR:[1118,1049],TL:[1285,1046],MH:[418,1082],AG:[717,1018],PH:[898,1049],DB:[818,1097],IL:[1070,1124],B:[892,1168],IF:[916,1152],GR:[888,1244],CL:[1023,1208],CT:[1205,1232],OT:[667,1217],TR:[767,1268],DJ:[547,1265]};
const scaleTicks=[0,2,4,6,8,10,12];
const scaleMax=13;
const sliderLabels=['19','26','Mai 3','10','17','24','31','Iun 7','14','21','28','Iul 5','12','19','26','Aug 2','9','16','23','30','Sep 6','13','20','27','Oct 4','11','18','25','Noi 1','8','15','22','29','Dec 6','13','20','27'];

/* ---------- page furniture ---------- */
const panels=[[4,3,622,369,1],[636,3,623,369,0],[1267,3,623,369,1],[4,383,622,294,1],[4,686,622,296,1],[636,383,623,599,1],[1267,383,623,599,1]];
const bg=document.getElementById('bg');
panels.forEach(p=>{const d=document.createElement('div');d.className='panel';d.style.cssText=`left:${p[0]}px;top:${p[1]}px;width:${p[2]}px;height:${p[3]}px`;
 if(p[4])d.innerHTML='<div class="corner"><span>i</span></div>';bg.appendChild(d);});
[0,2,4,6,8].forEach(i=>{const z=document.createElement('div');z.className='zebra';z.style.cssText=`left:475px;top:${731+25*i}px;width:138px;height:25px`;bg.appendChild(z);});

/* ---------- helpers ---------- */
const dayCats=[];for(let i=0;i<axisDays;i++){const d=new Date(2020,2,1+i);dayCats.push(String(d.getMonth()+1).padStart(2,'0')+'/'+String(d.getDate()).padStart(2,'0'));}
const weekends=[];for(let d=5;d+2<axisDays;d+=7)weekends.push([{xAxis:dayCats[d]},{xAxis:dayCats[d+2]}]);
const isTick=(i,v)=>tickDates.includes(v);
const grids=[],xAxes=[],yAxes=[],series=[],legends=[],titles=[],graphics=[];
const axisLabel=o=>Object.assign({color:TXT,fontFamily:FONT,fontSize:13},o);
function addGrid(l,t,w,h){grids.push({left:l,top:t,width:w,height:h,containLabel:false});return grids.length-1;}
function addTimeX(g){xAxes.push({type:'category',gridIndex:g,data:dayCats,boundaryGap:false,axisLine:{show:false},axisTick:{show:false},
  axisLabel:axisLabel({interval:isTick,margin:7,hideOverlap:false}),splitLine:{show:true,interval:isTick,lineStyle:{color:GRIDC,width:1}}});return xAxes.length-1;}
function addY(g,min,max,vals,fmt,margin){margin=margin||[6,4];
  const common={type:'value',gridIndex:g,min,max,axisLine:{show:false}};
  yAxes.push(Object.assign({},common,{position:'left',axisTick:{show:false,customValues:vals},axisLabel:axisLabel({formatter:fmt,margin:margin[0],customValues:vals}),splitLine:{show:true,lineStyle:{color:GRIDC,width:1}}}));
  const left=yAxes.length-1;
  yAxes.push(Object.assign({},common,{position:'right',axisTick:{show:false,customValues:vals},axisLabel:axisLabel({formatter:fmt,margin:margin[1],customValues:vals}),splitLine:{show:false}}));
  return left;}
function title(text,x,y,align){titles.push({text,left:x,top:y-8,padding:0,textAlign:align||'center',textStyle:{color:'#d8d9da',fontFamily:FONT,fontSize:15.5,fontWeight:'normal'}});}
function legend(name,x,y){legends.push({data:[name],left:x,top:y-6,icon:'roundRect',itemWidth:11,itemHeight:5,itemGap:6,selectedMode:false,padding:0,textStyle:{color:TXT,fontFamily:FONT,fontSize:13.4}});}
function bands(xi,yi){series.push({type:'line',xAxisIndex:xi,yAxisIndex:yi,data:[],silent:true,symbol:'none',z:1,markArea:{silent:true,itemStyle:{color:'rgba(255,255,255,.1)'},data:weekends}});}
function line(name,xi,yi,data,color,width,extra){series.push(Object.assign({type:'line',name,xAxisIndex:xi,yAxisIndex:yi,data,symbol:'none',showSymbol:false,silent:true,connectNulls:true,itemStyle:{color},lineStyle:{color,width,cap:'round',join:'round'},z:5},extra||{}));}
function bars(name,xi,yi,data,color,w){series.push({type:'bar',name,xAxisIndex:xi,yAxisIndex:yi,data,barWidth:w,barGap:'-100%',silent:true,itemStyle:{color},z:3});}
const fade=(c1,c2)=>({type:'linear',x:0,y:0,x2:0,y2:1,colorStops:[{offset:0,color:c1},{offset:1,color:c2}]});
const kFmt=v=>v===0?'0':v+' K', k1Fmt=v=>v===0?'0':v.toFixed(1)+' K', pct=v=>v+'%';
const neg=a=>a.map(p=>Array.isArray(p)?[p[0],-p[1]]:-p);
const weekly=a=>a.map((v,i)=>[i*7,v]);

/* ---------- 1: totals ---------- */
title('Evoluția cazurilor, vindecărilor și a deceselor în total',315,17);
{const g=addGrid(50,48,531,267.7),x=addTimeX(g),y=addY(g,0,745,[0,100,200,300,400,500,600,700],kFmt,[6,4]);
 bands(x,y);
 line('Cazuri',x,y,totalCases,'#f2cc0c',4.5,{areaStyle:{color:fade('rgba(242,204,12,.3)','rgba(242,204,12,.04)')}});
 line('Decese',x,y,totalDeaths,'#e02f44',4.5,{z:6});
 line('Cazuri active (estimare proprie)',x,y,activeEstimate,'#ff780a',4.5);
 line('Cazuri active (oficiale)',x,y,activeOfficial,'#8ab8ff',4.5);
 line('Vindecări',x,y,totalRecovered,'#96d98d',4.5,{z:7,areaStyle:{color:fade('rgba(150,217,141,.42)','rgba(150,217,141,.03)')}});
 legend('Cazuri',23,354);legend('Decese',87,354);legend('Vindecări',157,354);legend('Cazuri active (oficiale)',288,354);legend('Cazuri active (estimare proprie)',434,354);}

/* ---------- 2: per day ---------- */
title('Evoluția cazurilor, vindecărilor și a deceselor pe zi',947,17);
{const g=addGrid(676.4,48,543.2,268),x=addTimeX(g),y=addY(g,-12,12,[-10,-5,0,5,10],kFmt,[6,4]);
 bands(x,y);
 bars('Cazuri noi / zi',x,y,dailyCases,'rgba(242,204,12,.9)',1.4);
 bars('Vindecări / zi',x,y,neg(dailyRecovered),'rgba(150,217,141,.9)',1.4);
 line('Cazuri noi / zi',x,y,weekly(avgCases).concat([[303,4.1]]),'#f2cc0c',2.2,{areaStyle:{color:'rgba(242,204,12,.1)'}});
 line('Vindecări / zi',x,y,neg(avgRecovered),'#96d98d',2.2,{areaStyle:{color:'rgba(150,217,141,.12)'}});
 line('Decese / zi',x,y,neg(avgDeaths),'#e02f44',2.2,{z:6});
 legend('Cazuri noi / zi',656,355);legend('Vindecări / zi',1078,355);legend('Decese / zi',1175,355);}

/* ---------- 3: rates ---------- */
title('Rata testelor pozitive și rata de mortalitate',1579,17);
{const g=addGrid(1313.2,48,532.4,268),x=addTimeX(g),y=addY(g,-20,40,[-20,-10,0,10,20,30,40],pct,[5,4]);
 bands(x,y);
 bars('Rata testelor pozitive',x,y,dailyPositive,'rgba(202,149,229,.9)',1.4);
 bars('Rata de mortalitate',x,y,neg(dailyMortality),'rgba(255,115,131,.9)',1.4);
 line('Rata testelor pozitive',x,y,avgPositive,'#ca95e5',2.6,{areaStyle:{color:'rgba(202,149,229,.12)'}});
 line('Rata de mortalitate',x,y,neg(avgMortality),'#ff7383',2.6,{areaStyle:{color:'rgba(255,115,131,.1)'}});
 legend('Rata testelor pozitive',1288,355);legend('Rata de mortalitate',1762,355);}

/* ---------- 4: forecast ---------- */
title('Previziune pe termen scurt a cazurilor noi zilnice',315,397);
{const g=addGrid(47.8,427.7,533.2,212.3);
 const ticks=Object.keys(forecastLabels).map(Number);
 xAxes.push({type:'value',gridIndex:g,min:.903,max:22.21,axisLine:{show:false},axisTick:{show:false,customValues:ticks},
   axisLabel:axisLabel({customValues:ticks,formatter:v=>forecastLabels[v]||'',margin:9}),splitLine:{show:true,lineStyle:{color:GRIDC}}});
 const x=xAxes.length-1,y=addY(g,0,12,[0,2.5,5,7.5,10],k1Fmt,[6,5]);
 series.push({type:'line',xAxisIndex:x,yAxisIndex:y,data:[],silent:true,symbol:'none',z:1,markArea:{silent:true,itemStyle:{color:'rgba(255,255,255,.1)'},data:forecastWeekends.map(w=>[{xAxis:w[0]},{xAxis:w[1]}])}});
 const band=(hi,lo,fill)=>series.push({type:'custom',xAxisIndex:x,yAxisIndex:y,silent:true,z:3,data:[0],
   renderItem:(p,api)=>{const pts=[];forecastDays.forEach((d,i)=>pts.push(api.coord([d,hi[i]])));for(let i=forecastDays.length-1;i>=0;i--)pts.push(api.coord([forecastDays[i],lo[i]]));
     return {type:'polygon',shape:{points:pts},style:{fill,stroke:'#b583d8',lineWidth:1}};}});
 band(outerHigh,outerLow,'rgba(170,120,210,.42)');
 band(innerHigh,innerLow,'rgba(190,140,225,.5)');
 line('Medie',x,y,forecastDays.map((d,i)=>[d,forecastMean[i]]),'#e8dff2',1.5,{z:4,lineStyle:{color:'#e8dff2',width:1.5,type:[9,9]}});
 line('Cazuri',x,y,forecastActual,'#f2cc0c',2.2,{z:6,symbol:'circle',showSymbol:true,symbolSize:9});
 series.push({type:'scatter',xAxisIndex:x,yAxisIndex:y,data:forecastLate,symbolSize:9,silent:true,itemStyle:{color:'#f2cc0c'},z:6});
}

/* ---------- 5: county lines ---------- */
title('Evoluția ratei de incidență pe județe',315,701);
{const g=addGrid(49.4,732.3,405.4,219),x=addTimeX(g);
 xAxes[x].axisLabel.margin=8;
 yAxes.push({type:'value',gridIndex:g,min:0,max:15,interval:5,axisLine:{show:false},axisTick:{show:false},name:'‰',nameLocation:'middle',nameGap:24,nameRotate:90,nameTextStyle:{color:TXT,fontFamily:FONT,fontSize:15,padding:[0,0,0,14]},axisLabel:axisLabel({margin:7}),splitLine:{show:true,lineStyle:{color:GRIDC}}});
 const y=yAxes.length-1;
 series.push({type:'line',xAxisIndex:x,yAxisIndex:y,data:[],silent:true,symbol:'none',z:1,
   markArea:{silent:true,data:[[{yAxis:3,itemStyle:{color:'rgba(255,190,215,.17)'}},{yAxis:15}],[{yAxis:0,itemStyle:{color:'rgba(50,172,100,.2)'}},{yAxis:1}]].concat(weekends.map(w=>[Object.assign({itemStyle:{color:'rgba(255,255,255,.07)'}},w[0]),w[1]]))},
   markLine:{silent:true,symbol:'none',label:{show:false},data:[{yAxis:3,lineStyle:{color:'#c6312d',width:1.6,type:'solid'}},{yAxis:1,lineStyle:{color:'#1f9a4e',width:1.6,type:'solid'}}]}});
 counties.forEach((name,r)=>{
   const pts=earlyDays.map((d,i)=>[d,incidenceEarly[r][i]]).concat(incidence[r].map((v,i)=>[183+3*i,v]));
   line(name,x,y,pts,countyColors[r],1.6,{z:4,areaStyle:{color:countyColors[r],opacity:.16}});
 });
 legends.push({data:counties.slice(0,10),orient:'vertical',left:492,top:737,icon:'roundRect',itemWidth:11,itemHeight:5,itemGap:9.5,selectedMode:false,padding:0,textStyle:{color:TXT,fontFamily:FONT,fontSize:13.4,padding:[0,0,0,5],lineHeight:15.5}});
}

/* ---------- 6: heat map ---------- */
title('Evoluția ratei de incidență pe județe (totalul cazurilor noi din ultimele două săptămâni/1000 d...',655,397,'left');
const heatIdx=[];
{const g=addGrid(727.4,429,507.4,496.7);
 const cats=[];for(let i=0;i<heatDays;i++){const d=new Date(heatStart[0],heatStart[1],heatStart[2]+i);cats.push(String(d.getMonth()+1).padStart(2,'0')+'/'+String(d.getDate()).padStart(2,'0'));}
 xAxes.push({type:'category',gridIndex:g,data:cats,axisLine:{show:false},axisTick:{show:false},splitLine:{show:false},axisLabel:axisLabel({fontSize:13,margin:9,interval:(i,v)=>heatLabels.includes(v)})});
 const x=xAxes.length-1;
 yAxes.push({type:'category',gridIndex:g,data:counties,inverse:true,axisLine:{show:false},axisTick:{show:false},splitLine:{show:false},axisLabel:axisLabel({interval:0,margin:5,padding:[5,0,0,0]})});
 const y=yAxes.length-1,data=[];
 counties.forEach((n,r)=>{for(let i=0;i<heatDays;i++){const miss=(incidenceMissing[r]||[]).includes(i);data.push([i,r,miss?'-':Math.min(8,incidence[r][Math.floor(i/3)])]);}});
 series.push({type:'heatmap',xAxisIndex:x,yAxisIndex:y,data,silent:true,progressive:0,itemStyle:{borderColor:'rgba(95,110,125,.75)',borderWidth:.5},z:3});
 heatIdx.push(series.length-1);
 const g2=addGrid(668,949,271,6);
 xAxes.push({type:'category',gridIndex:g2,data:heatLegendValues.map(String),axisLine:{show:false},axisTick:{show:false},splitLine:{show:false},axisLabel:axisLabel({margin:4,interval:(i)=>heatLegendLabels[i]!==undefined,formatter:(v,i)=>heatLegendLabels[i]})});
 yAxes.push({type:'category',gridIndex:g2,data:[''],axisLine:{show:false},axisTick:{show:false},axisLabel:{show:false}});
 series.push({type:'heatmap',xAxisIndex:xAxes.length-1,yAxisIndex:yAxes.length-1,silent:true,data:heatLegendValues.map((v,i)=>[i,0,v])});
 heatIdx.push(series.length-1);
}

/* ---------- 7: map ---------- */
title('Distribuția cazurilor pe județe',1579,397);
const geo={type:'FeatureCollection',features:Object.keys(mapShapes).map(k=>({type:'Feature',properties:{name:k,cp:(mapLabelAt[k]||mapShapes[k][0]).map((c,i)=>i?-c:c)},geometry:{type:'Polygon',coordinates:[mapShapes[k].concat([mapShapes[k][0]]).map(p=>[p[0],-p[1]])]}}))};
echarts.registerMap('ro',geo);
series.push({type:'map',map:'ro',showLegendSymbol:false,left:1296.3,top:461.7,width:530.4,height:375.7,aspectScale:1.2053,roam:false,silent:true,selectedMode:false,z:3,
  itemStyle:{borderColor:'rgba(120,85,0,.75)',borderWidth:.7},emphasis:{disabled:true},
  label:{show:true,fontFamily:FONT,fontSize:14,color:'#4a4a3a'},
  data:Object.keys(mapValues).map(k=>({name:k,value:mapValues[k],label:{show:!mapHidden.includes(k),color:mapValues[k]>=3?'#fff':'#4a4a3a',fontWeight:mapValues[k]>=3?'bold':'normal'}}))});
const mapIdx=series.length-1;
{const g=addGrid(1354.6,864,427.4,10);
 xAxes.push({type:'value',gridIndex:g,min:0,max:scaleMax,axisLine:{show:false},splitLine:{show:false},
   axisTick:{show:true,length:5,customValues:scaleTicks,lineStyle:{color:'#8a95a3'}},axisLabel:axisLabel({customValues:scaleTicks,formatter:'{value} ‰',margin:7})});
 yAxes.push({type:'category',gridIndex:g,data:[''],axisLine:{show:false},axisTick:{show:false},axisLabel:{show:false}});
 series.push({type:'bar',xAxisIndex:xAxes.length-1,yAxisIndex:yAxes.length-1,data:[scaleMax],barWidth:10,silent:true,
   itemStyle:{color:{type:'linear',x:0,y:0,x2:1,y2:0,colorStops:[{offset:0,color:'#2e8b57'},{offset:.077,color:'#ffd700'},{offset:.154,color:'#ffa500'},{offset:.23,color:'#e53935'},{offset:.31,color:'#dc143c'},{offset:.46,color:'#8b0000'},{offset:.85,color:'#8b0000'},{offset:.93,color:'#3d2a25'},{offset:1,color:'#3d2a25'}]},borderColor:'#5a5f68',borderWidth:1}});
 const g2=addGrid(1281,915,561.3,10);
 const cats=['','',''];sliderLabels.forEach((l,i)=>{cats.push(l);if(i<sliderLabels.length-1)for(let k=0;k<6;k++)cats.push('');});cats.push('','');
 xAxes.push({type:'category',gridIndex:g2,data:cats,boundaryGap:false,axisLine:{show:false},splitLine:{show:false},
   axisTick:{show:true,interval:1,inside:true,length:10,lineStyle:{color:'#dfe3e8',width:2}},
   axisLabel:axisLabel({rotate:90,interval:(i,v)=>v!=='',margin:6,fontSize:14})});
 yAxes.push({type:'value',gridIndex:g2,min:-1,max:1,show:false});
 series.push({type:'scatter',xAxisIndex:xAxes.length-1,yAxisIndex:yAxes.length-1,data:[[cats.length-1,0]],symbol:'roundRect',symbolSize:[9,17],silent:true,clip:false,itemStyle:{color:'#d8d9da'},z:6});
}
const gtext=(text,x,y,align,size,extra)=>({type:'text',silent:true,z:10,style:Object.assign({text,x,y,fill:TXT,font:`${size}px ${FONT}`,textAlign:align,textVerticalAlign:'middle'},extra||{})});
graphics.push(gtext('Cazuri noi din ultimele 14 zile / 1000 locuitori, la data de',1674,435.5,'right',15.2,{fill:'#d8d9da'}));
graphics.push(gtext('29 decembrie',1698,435.5,'left',16,{fill:'#d8d9da'}));
graphics.push({type:'rect',silent:true,z:10,shape:{x:1679,y:429,width:15,height:15},style:{fill:'#f3f3f3',stroke:'#111',lineWidth:1}});
graphics.push({type:'rect',silent:true,z:11,shape:{x:1680,y:430,width:13,height:4},style:{fill:'#d9392b'}});
graphics.push({type:'rect',silent:true,z:11,shape:{x:1682,y:437,width:4,height:3},style:{fill:'#c66'}});
['Cazuri / 1000 locuitori','Ultimele 14 zile','3 culori'].forEach((t,i)=>{const y=461+25*i;
  graphics.push(gtext(t,1830.7,y-1,'right',13));
  graphics.push({type:'rect',silent:true,z:10,shape:{x:1838,y:y-8.5,width:30,height:17,r:8.5},style:{fill:'#1565c0'}});
  graphics.push({type:'circle',silent:true,z:11,shape:{cx:1859,cy:y,r:6},style:{fill:'#d8d8d8'}});});
graphics.push(gtext('zonă verde ≤ 1',1351,869,'right',13));
graphics.push(gtext('> 3 zonă roșie',1787,869,'left',13,{width:62,overflow:'truncate',ellipsis:''}));

/* ---------- render ---------- */
const chart=echarts.init(document.getElementById('c'),null,{renderer:'canvas'});
chart.setOption({animation:false,backgroundColor:'transparent',title:titles,grid:grids,xAxis:xAxes,yAxis:yAxes,series,legend:legends,tooltip:{show:false},
  graphic:{elements:graphics},
  visualMap:[{type:'continuous',show:false,min:0,max:8,seriesIndex:heatIdx,dimension:2,inRange:{color:spectral}},
   {type:'piecewise',show:false,seriesIndex:mapIdx,pieces:[{lte:1,color:'#2e8b57'},{gt:1,lte:2,color:'#f0d308'},{gt:2,lte:3,color:'#ffab00'},{gt:3,lte:3.5,color:'#e53935'},{gt:3.5,lte:5,color:'#dc143c'},{gt:5,color:'#8b0000'}]}]});
</script>
</body></html>
